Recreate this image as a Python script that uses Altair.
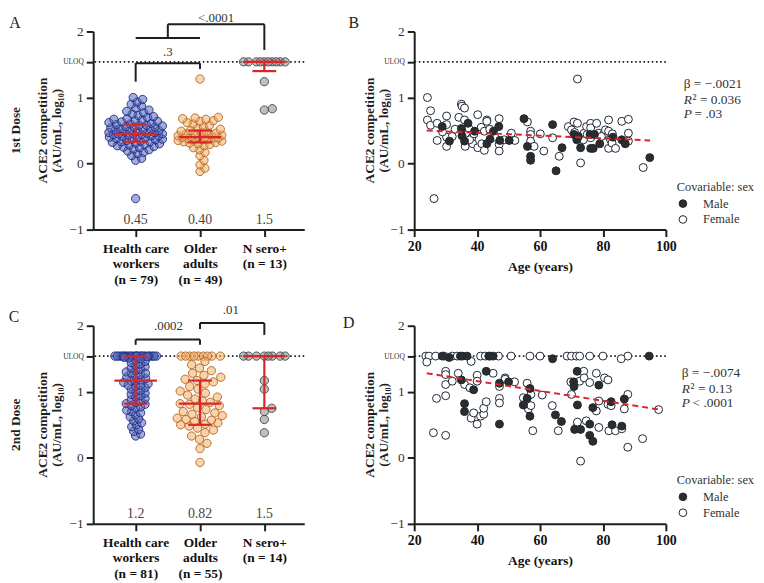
import json
import altair as alt
import pandas as pd

FONT = "Liberation Serif"
RED = "#d9262c"
INK = "#1e1e1e"
ULOQ = 1.54

GROUPS = ["Health care workers", "Older adults", "N sero+"]
GROUP_FILL = ["#5669bd", "#f4ae68", "#8a8a8a"]
GROUP_STROKE = ["#1d2a80", "#b1661f", "#454545"]

# ---------------- Panel A (1st dose) ----------------
hcw_1 = [-0.53, 0.05, 0.08, 0.12, 0.15, 0.17, 0.19, 0.21, 0.22, 0.24,
         0.25, 0.26, 0.27, 0.28, 0.29, 0.30, 0.31, 0.32, 0.33, 0.33,
         0.34, 0.35, 0.36, 0.37, 0.37, 0.38, 0.39, 0.40, 0.40, 0.41,
         0.42, 0.42, 0.43, 0.44, 0.44, 0.45, 0.45, 0.45, 0.46, 0.47,
         0.47, 0.48, 0.49, 0.50, 0.50, 0.51, 0.52, 0.52, 0.53, 0.54,
         0.55, 0.55, 0.56, 0.57, 0.58, 0.58, 0.59, 0.60, 0.61, 0.62,
         0.63, 0.64, 0.65, 0.66, 0.67, 0.68, 0.70, 0.71, 0.73, 0.75,
         0.77, 0.79, 0.81, 0.84, 0.87, 0.90, 0.93, 0.97, 1.00]
old_1 = [-0.12, -0.07, -0.02, 0.05, 0.12, 0.17, 0.21, 0.24, 0.27, 0.29,
         0.30, 0.31, 0.32, 0.33, 0.34, 0.35, 0.36, 0.37, 0.38, 0.38,
         0.39, 0.39, 0.40, 0.40, 0.40, 0.41, 0.42, 0.43, 0.44, 0.45,
         0.45, 0.46, 0.47, 0.48, 0.49, 0.50, 0.52, 0.54, 0.56, 0.58,
         0.60, 0.62, 0.64, 0.65, 0.67, 0.68, 0.69, 0.70, 1.28]
sero_1 = [1.54, 1.54, 1.54, 1.54, 1.54, 1.54, 1.54, 1.54, 1.54, 1.54,
          1.24, 0.83, 0.81]
med_1 = [0.45, 0.40, 1.54]
q1_1 = [0.33, 0.32, 1.40]
q3_1 = [0.59, 0.50, 1.54]
med_lbl_1 = ["0.45", "0.40", "1.5"]
cats_1 = [["Health care", "workers", "(n = 79)"],
          ["Older", "adults", "(n = 49)"],
          ["N sero+", "(n = 13)"]]
# brackets: x1, x2, y1, y2 (category units / log10 units)
brA_x1 = [1, 1, 2, 1, 1.5, 1.5, 3]
brA_x2 = [2, 1, 2, 2, 1.5, 3, 3]
brA_y1 = [1.52, 1.24, 1.43, 1.90, 1.90, 2.11, 1.72]
brA_y2 = [1.52, 1.52, 1.52, 1.90, 2.11, 2.11, 2.11]
brA_lx = [1.5, 2.25]
brA_ly = [1.69, 2.21]
brA_txt = [".3", "<.0001"]

# ---------------- Panel C (2nd dose) ----------------
hcw_2 = [1.54, 1.54, 1.54, 1.54, 1.54, 1.54, 1.54, 1.54, 1.54, 1.54,
         1.54, 1.54, 1.54, 1.54, 1.54, 1.54, 1.54, 1.54, 1.54, 1.54,
         1.54, 1.54,
         0.33, 0.36, 0.40, 0.43, 0.47, 0.50, 0.53, 0.56, 0.59, 0.62,
         0.65, 0.68, 0.70, 0.72, 0.75, 0.77, 0.79, 0.81, 0.82, 0.84,
         0.86, 0.88, 0.90, 0.92, 0.94, 0.96, 0.98, 1.00, 1.02, 1.04,
         1.06, 1.08, 1.10, 1.12, 1.14, 1.16, 1.17, 1.18, 1.20, 1.22,
         1.24, 1.26, 1.28, 1.30, 1.32, 1.34, 1.36, 1.38, 1.40, 1.42,
         1.44, 1.46, 1.48, 1.50, 1.51, 1.52, 1.53, 1.28, 1.10]
old_2 = [1.54, 1.54, 1.54, 1.54, 1.54, 1.54, 1.54, 1.54, 1.54,
         -0.07, 0.14, 0.22, 0.28, 0.33, 0.38, 0.42, 0.45, 0.48, 0.50,
         0.51, 0.53, 0.55, 0.57, 0.58, 0.60, 0.62, 0.64, 0.66, 0.68,
         0.70, 0.73, 0.76, 0.79, 0.81, 0.82, 0.84, 0.86, 0.89, 0.92,
         0.95, 0.98, 1.01, 1.04, 1.08, 1.12, 1.15, 1.17, 1.19, 1.22,
         1.25, 1.28, 1.32, 1.36, 1.41, 1.46]
sero_2 = [1.54, 1.54, 1.54, 1.54, 1.54, 1.54, 1.54, 1.54,
          1.17, 1.04, 0.75, 0.70, 0.58, 0.38]
med_2 = [1.17, 0.82, 1.54]
q1_2 = [0.82, 0.50, 0.75]
q3_2 = [1.54, 1.17, 1.54]
med_lbl_2 = ["1.2", "0.82", "1.5"]
cats_2 = [["Health care", "workers", "(n = 81)"],
          ["Older", "adults", "(n = 55)"],
          ["N sero+", "(n = 14)"]]
brC_x1 = [1, 1, 2, 2, 2, 3]
brC_x2 = [2, 1, 2, 3, 2, 3]
brC_y1 = [1.79, 1.71, 1.71, 2.04, 1.95, 1.86]
brC_y2 = [1.79, 1.79, 1.79, 2.04, 2.04, 2.04]
brC_lx = [1.51, 2.48]
brC_ly = [2.0, 2.24]
brC_txt = [".0002", ".01"]

# ---------------- Panel B (1st dose vs age) ----------------
b_male_age = [28.9, 31.2, 35.0, 35.2, 36.0, 37.1, 39.2, 43.1, 44.1, 45.2,
              46.9, 47.2, 50.2, 54.9, 56.0, 57.0, 57.0, 64.0, 65.1, 67.0,
              70.8, 71.7, 72.2, 72.9, 75.9, 76.1, 76.9, 77.3, 79.0, 83.2,
              86.0, 87.1, 94.9]
b_male_val = [0.56, 0.34, 0.53, 0.42, 0.34, 0.61, 0.49, 0.30, 0.37, 0.49,
              0.56, 0.35, 0.35, 0.68, 0.26, 0.11, 0.05, 0.59, -0.11, 0.24,
              0.44, 0.36, 0.41, 0.24, 0.44, 0.23, 0.23, 0.44, 0.30, 0.40,
              0.36, 0.30, 0.09]
b_fem_age = [24.2, 24.2, 25.2, 25.2, 26.3, 27.3, 27.3, 30.3, 30.3, 30.3,
             30.3, 32.1, 34.2, 35.0, 35.2, 36.0, 36.0, 36.2, 36.8, 37.3,
             38.3, 38.6, 40.2, 40.2, 41.3, 41.5, 42.3, 43.1, 43.1, 42.3,
             47.0, 47.0, 47.0, 48.6, 50.9, 52.0, 56.0, 57.0, 57.0, 57.0,
             58.1, 60.1, 61.2, 64.0, 66.1, 69.0, 70.0, 70.8, 71.9, 71.9,
             72.9, 73.8, 74.0, 74.8, 76.1, 76.1, 76.1, 78.0, 78.7, 80.3,
             80.8, 81.8, 81.8, 81.8, 82.4, 82.9, 84.0, 86.0, 88.1, 88.1,
             88.1, 92.8, 29.0, 33.0, 37.6, 39.0, 44.0, 45.6, 71.0, 75.0,
             79.5, 83.0]
b_fem_val = [1.00, 0.66, 0.80, 0.58, -0.53, 0.61, 0.35, 0.72, 0.59, 0.40,
             0.26, 0.41, 0.70, 0.90, 0.87, 0.84, 0.66, 0.26, 0.44, 0.54,
             0.39, 0.30, 0.74, 0.24, 0.55, 0.30, 0.20, 0.66, 0.64, 0.49,
             0.68, 0.29, 0.19, 0.36, 0.46, 0.35, 0.63, 0.49, 0.44, 0.34,
             0.26, 0.45, 0.19, 0.39, 0.11, 0.56, 0.51, 0.63, 0.61, 1.28,
             0.01, 0.36, 0.46, 0.56, 0.61, 0.54, 0.39, 0.61, 0.46, 0.45,
             0.51, 0.66, 0.49, 0.23, 0.36, 0.31, 0.23, 0.64, 0.67, 0.46,
             0.34, -0.06, 0.48, 0.52, 0.36, 0.45, 0.52, 0.40, 0.47, 0.44,
             0.41, 0.45]
b_reg_age = [24, 95]
b_reg_val = [0.50, 0.35]
b_stats = ["β = −.0021", "0.036", ".03"]

# ---------------- Panel D (2nd dose vs age) ----------------
d_male_age = [28.9, 31.1, 34.7, 35.3, 36.8, 43.7, 44.2, 45.1, 64.0, 94.7,
              35.0, 36.0, 36.0, 38.9, 42.9, 47.1, 47.1, 50.0, 54.7, 55.9,
              56.8, 56.8, 64.9, 66.8, 70.7, 70.8, 71.0, 71.8, 71.9, 72.9,
              75.8, 75.8, 76.8, 76.8, 78.7, 82.6, 82.9, 86.0, 86.8]
d_male_val = [1.54, 1.52, 1.54, 1.54, 1.54, 1.54, 1.54, 1.54, 1.50, 1.54,
              1.18, 0.82, 0.70, 1.03, 1.31, 1.13, 0.51, 1.15, 0.80, 0.90,
              1.05, 0.63, 0.65, 0.55, 1.15, 1.08, 0.43, 1.31, 0.80, 0.43,
              0.51, 0.34, 0.76, 0.25, 1.10, 0.85, 0.50, 0.48, 0.89]
d_fem_age = [23.7, 24.7, 26.8, 29.5, 32.1, 33.7, 41.1, 42.6, 46.8, 50.8,
             56.8, 60.0, 68.6, 70.0, 71.6, 72.6, 75.8, 80.0, 87.9,
             24.0, 38.1, 85.8,
             26.1, 27.1, 30.0, 30.0, 30.0, 30.0, 30.0, 32.1, 34.0, 36.0,
             37.7, 38.1, 38.9, 40.0, 40.0, 40.0, 41.1, 42.1, 42.1, 42.9,
             45.1, 47.1, 47.1, 47.1, 48.9, 48.9, 51.9, 54.7, 55.9, 56.3,
             57.1, 57.1, 57.7, 60.7, 63.9, 65.8, 69.8, 70.0, 71.6, 71.9,
             72.6, 72.9, 73.9, 74.0, 74.7, 75.8, 77.9, 77.9, 78.7, 78.7,
             80.5, 81.6, 81.6, 81.9, 82.6, 84.0, 86.0, 86.8, 87.9, 87.9,
             92.6, 97.7]
d_fem_val = [1.54, 1.54, 1.54, 1.54, 1.54, 1.54, 1.54, 1.54, 1.54, 1.54,
             1.54, 1.54, 1.54, 1.54, 1.54, 1.54, 1.54, 1.54, 1.54,
             1.45, 1.46, 1.50,
             0.38, 0.90, 1.31, 1.26, 1.11, 0.94, 0.34, 1.16, 1.28, 1.11,
             1.06, 0.60, 0.68, 1.25, 1.16, 0.51, 0.63, 0.66, 0.75, 0.85,
             1.28, 1.08, 0.90, 0.83, 1.21, 1.19, 1.15, 0.91, 1.13, 0.74,
             0.79, 0.96, 0.41, 0.95, 0.79, 0.41, 1.15, 0.96, 0.46, 0.54,
             1.16, -0.05, 1.31, 1.21, 0.56, 1.14, 1.28, 0.71, 0.86, 0.46,
             1.21, 1.18, 0.81, 0.41, 0.79, 0.41, 0.44, 0.74, 0.96, 0.16,
             0.29, 0.73]
d_reg_age = [24, 98]
d_reg_val = [1.28, 0.73]
d_stats = ["β = −.0074", "0.13", "< .0001"]

# ---------------- layout helpers ----------------
W_DOT, W_SC, H = 213, 254, 200
XDOM = [0.34, 3.62]
PX_Y = H / 3.0
PX_X = W_DOT / (XDOM[1] - XDOM[0])
# beeswarm packing (min spacing px, max half width px) per group
SWARM_A = [(6.0, 27), (6.0, 22), (8, 21)]
SWARM_C = [(5, 21), (8.5, 23), (8, 21)]


def swarm(vals, d, half):
    """Simple beeswarm layout: returns x offsets in category units."""
    order = sorted(range(len(vals)), key=lambda i: vals[i])
    cands = []
    k = 0.0
    while k <= half + 1e-9:
        cands.extend([k] if k == 0 else [k, -k])
        k += 0.5
    placed = []
    offs = [0.0] * len(vals)
    for i in order:
        y = vals[i] * PX_Y
        best = None
        for c in cands:
            if all((c - px) ** 2 + (y - py) ** 2 >= d * d for px, py in placed):
                best = c
                break
        if best is None:
            best = max(cands, key=lambda c: min((c - px) ** 2 + (y - py) ** 2
                                                for px, py in placed))
        placed.append((best, y))
        offs[i] = best / PX_X
    return offs


Y_LABEL_EXPR = ("datum.value < -0.5 ? '−1' : datum.value < 0.5 ? '0' : "
                "datum.value < 1.2 ? '1' : datum.value < 1.8 ? 'ULOQ' : '2'")


def y_enc(field):
    return alt.Y(field, type="quantitative",
                 scale=alt.Scale(domain=[-1, 2], nice=False, zero=False),
                 axis=alt.Axis(values=[-1, 0, 1, ULOQ, 2], labelExpr=Y_LABEL_EXPR,
                               labelFontSize={"condition": {"test": "datum.value > 1.5 && datum.value < 1.6",
                                                            "value": 7.5},
                                              "value": 13.5},
                               title=None, grid=False, tickSize=7, labelPadding=3,
                               labelColor="#333"))


def text_layer(txt, x, y, size=13, weight="normal", angle=0, align="center",
               style="normal", color=INK, baseline="middle"):
    kw = dict(font=FONT, fontSize=size, fontWeight=weight, align=align,
              baseline=baseline, color=color, fontStyle=style, lineBreak="\n",
              lineHeight=15)
    if angle:
        kw["angle"] = angle
    return alt.Chart(pd.DataFrame({"t": [txt]})).mark_text(**kw).encode(
        x=alt.value(x), y=alt.value(y), text="t:N")


def dot_panel(vals, swarm_par, med, q1, q3, med_lbl, cats, bx1, bx2, by1, by2,
              lx, ly, ltxt, letter, letter_xy, row_label):
    expr = "datum.value == 1 ? %s : datum.value == 2 ? %s : %s" % (
        json.dumps(cats[0]), json.dumps(cats[1]), json.dumps(cats[2]))
    xaxis = alt.Axis(values=[1, 2, 3], labelExpr=expr, labelFontWeight="bold",
                     labelFontSize=13.5, labelColor="#111", labelLineHeight=15.5,
                     labelPadding=5, labelFlush=False, labelOverlap=False,
                     title=None, grid=False, tickSize=7)
    xs = alt.Scale(domain=XDOM, nice=False, zero=False)

    def xe(f):
        return alt.X(f, type="quantitative", scale=xs, axis=xaxis)

    rows = []
    for gi, (g, v) in enumerate(zip(GROUPS, vals)):
        d, half = swarm_par[gi]
        for val, o in zip(v, swarm(v, d, half)):
            rows.append({"x": gi + 1 + o, "y": val, "grp": g})
    pts = pd.DataFrame(rows)

    uloq = alt.Chart(pd.DataFrame({"y": [ULOQ]})).mark_rule(
        color=INK, strokeWidth=1.6, strokeDash=[1.6, 2.6]).encode(y=y_enc("y"))

    points = alt.Chart(pts).mark_circle(size=70, strokeWidth=1, fillOpacity=0.55,
                                        strokeOpacity=0.9).encode(
        x=xe("x"), y=y_enc("y"),
        fill=alt.Fill("grp:N", scale=alt.Scale(domain=GROUPS, range=GROUP_FILL), legend=None),
        stroke=alt.Stroke("grp:N", scale=alt.Scale(domain=GROUPS, range=GROUP_STROKE), legend=None))

    summ = alt.Chart(pd.DataFrame({"x": [1, 2, 3], "med": med, "q1": q1, "q3": q3,
                                   "lbl": med_lbl})).transform_calculate(
        ml="datum.x - 0.33", mr="datum.x + 0.33",
        cl="datum.x - 0.185", cr="datum.x + 0.185", ty="-0.85")
    red = dict(color=RED, strokeWidth=2.2)
    med_rule = summ.mark_rule(**red).encode(x=xe("ml"), x2="mr", y=y_enc("med"))
    cap_lo = summ.mark_rule(**red).encode(x=xe("cl"), x2="cr", y=y_enc("q1"))
    cap_hi = summ.mark_rule(**red).encode(x=xe("cl"), x2="cr", y=y_enc("q3"))
    vert = summ.mark_rule(**red).encode(x=xe("x"), y=y_enc("q1"), y2="q3")
    med_txt = summ.mark_text(font=FONT, fontSize=14, color="#444").encode(
        x=xe("x"), y=y_enc("ty"), text="lbl:N")

    br = alt.Chart(pd.DataFrame({"bx": bx1, "bx2": bx2, "by": by1, "by2": by2})).mark_rule(
        color=INK, strokeWidth=2).encode(x=xe("bx"), x2="bx2", y=y_enc("by"), y2="by2")
    br_txt = alt.Chart(pd.DataFrame({"lx": lx, "ly": ly, "t": ltxt})).mark_text(
        font=FONT, fontSize=13, color="#333").encode(x=xe("lx"), y=y_enc("ly"), text="t:N")

    layers = [uloq, points, med_rule, cap_lo, cap_hi, vert, med_txt, br, br_txt,
              text_layer(letter, letter_xy[0], letter_xy[1], size=16),
              text_layer(row_label, -78, H / 2, size=13.5, weight="bold", angle=270),
              text_layer("ACE2 competition\n(AU/mL, log₁₀)", -51, H / 2, size=13.5,
                         weight="bold", angle=270)]
    return alt.layer(*layers).properties(width=W_DOT, height=H)


def scatter_panel(m_age, m_val, f_age, f_val, r_age, r_val, stats, letter, letter_xy,
                  stat_xy, leg_xy):
    sexes = ["Male", "Female"]
    df = pd.DataFrame({"age": list(f_age) + list(m_age),
                       "val": list(f_val) + list(m_val),
                       "sex": ["Female"] * len(f_age) + ["Male"] * len(m_age)})
    xs = alt.Scale(domain=[20, 100], nice=False, zero=False)
    xaxis = alt.Axis(values=[20, 40, 60, 80, 100], labelFontWeight="bold",
                     labelFontSize=14, labelColor="#111", labelFlush=False,
                     title="Age (years)", titleFontWeight="bold", titleFontSize=13.5,
                     titleColor="#111", titlePadding=6, grid=False, tickSize=7,
                     labelPadding=3)

    def xe(f):
        return alt.X(f, type="quantitative", scale=xs, axis=xaxis)

    uloq = alt.Chart(pd.DataFrame({"y": [ULOQ]})).mark_rule(
        color=INK, strokeWidth=1.6, strokeDash=[1.6, 2.6]).encode(y=y_enc("y"))
    pts = alt.Chart(df).mark_circle(size=64, stroke="#1d2733", strokeWidth=1,
                                    opacity=1).encode(
        x=xe("age"), y=y_enc("val"),
        fill=alt.Fill("sex:N", scale=alt.Scale(domain=sexes, range=["#2c2c2c", "#ffffff"]),
                      legend=alt.Legend(title="Covariable: sex", orient="none",
                                        legendX=leg_xy[0], legendY=leg_xy[1],
                                        titleFont=FONT, titleFontWeight="normal",
                                        titleFontSize=12.5, titleColor="#333",
                                        labelFont=FONT, labelFontSize=12.5,
                                        labelColor="#333", symbolType="circle",
                                        symbolSize=60, symbolStrokeColor="#1d2733",
                                        symbolStrokeWidth=1, labelOffset=14,
                                        rowPadding=3, titlePadding=4, padding=0)))
    reg = alt.Chart(pd.DataFrame({"age": r_age, "val": r_val})).mark_line(
        color=RED, strokeDash=[6, 4], strokeWidth=2).encode(x=xe("age"), y=y_enc("val"))
    sx, sy = stat_xy
    layers = [uloq, pts, reg,
              text_layer(stats[0], sx, sy, size=13.5, align="left", color="#333"),
              text_layer("R", sx, sy + 16, size=13.5, align="left", style="italic", color="#333"),
              text_layer("² = " + stats[1], sx + 9, sy + 16, size=13.5, align="left", color="#333"),
              text_layer("P", sx, sy + 30, size=13.5, align="left", style="italic", color="#333"),
              text_layer(("= " if not stats[2].startswith("<") else "") + stats[2],
                         sx + 11, sy + 30, size=13.5, align="left", color="#333"),
              text_layer(letter, letter_xy[0], letter_xy[1], size=16),
              text_layer("ACE2 competition\n(AU/mL, log₁₀)", -45, H / 2, size=13.5,
                         weight="bold", angle=270)]
    return alt.layer(*layers).properties(width=W_SC, height=H)


A = dot_panel([hcw_1, old_1, sero_1], SWARM_A, med_1, q1_1, q3_1, med_lbl_1, cats_1,
              brA_x1, brA_x2, brA_y1, brA_y2, brA_lx, brA_ly, brA_txt,
              "A", (-79, -9), "1st Dose")
B = scatter_panel(b_male_age, b_male_val, b_fem_age, b_fem_val, b_reg_age, b_reg_val,
                  b_stats, "B", (-61, -8), (272, 53), (265, 151))
C = dot_panel([hcw_2, old_2, sero_2], SWARM_C, med_2, q1_2, q3_2, med_lbl_2, cats_2,
              brC_x1, brC_x2, brC_y1, brC_y2, brC_lx, brC_ly, brC_txt,
              "C", (-80, -9), "2nd Dose")
D = scatter_panel(d_male_age, d_male_val, d_fem_age, d_fem_val, d_reg_age, d_reg_val,
                  d_stats, "D", (-66, -3), (270, 48), (265, 150))

chart = alt.concat(A, B, C, D, columns=2, spacing={"row": 97, "column": 111},
                   bounds="flush").resolve_scale(
    fill="independent", stroke="independent").resolve_legend(
    fill="independent", stroke="independent").properties(
    padding=0, background="white").configure(font=FONT).configure_view(
    stroke="transparent").configure_axis(
    labelFont=FONT, titleFont=FONT, domainColor=INK, tickColor=INK,
    domainWidth=2, tickWidth=2)

chart.save("out.html", embed_options={"renderer": "svg", "actions": False})
